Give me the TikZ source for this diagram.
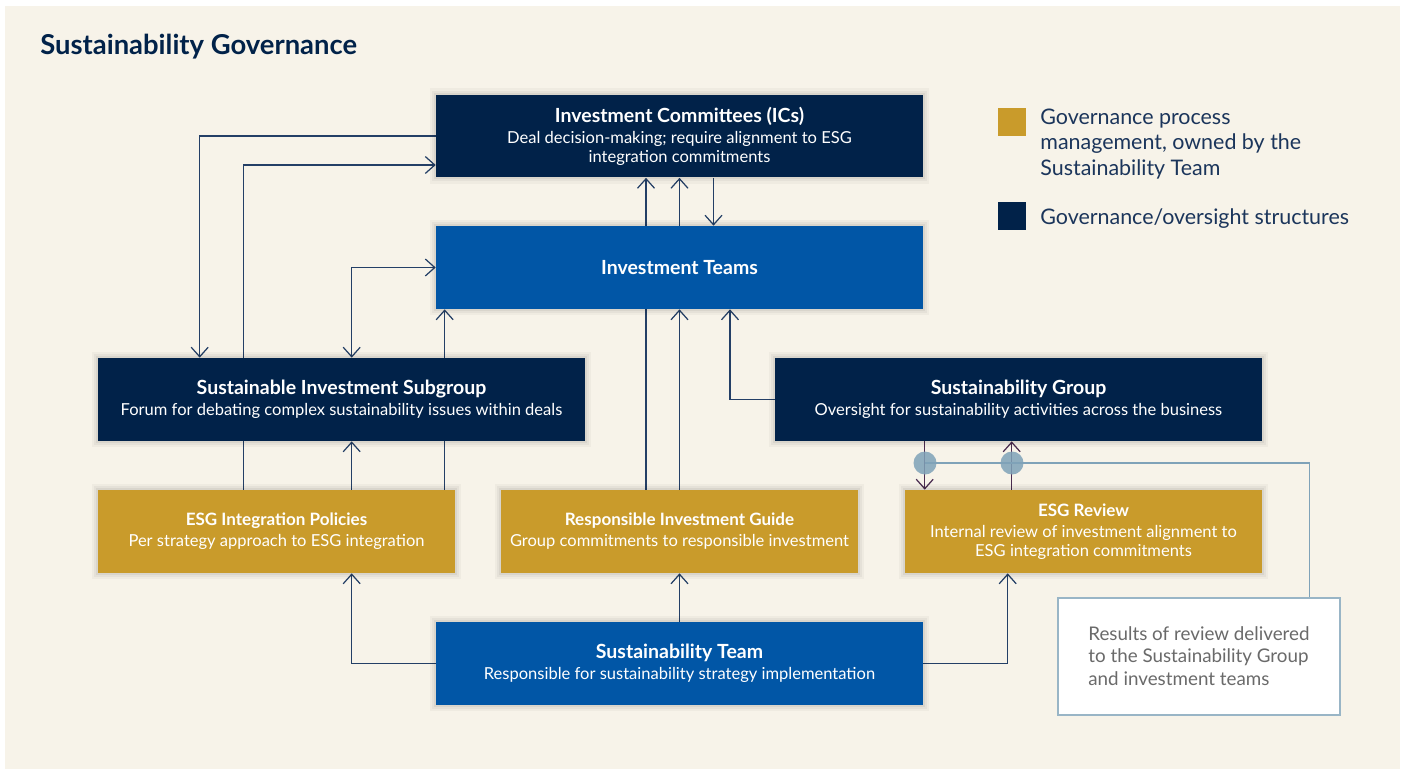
\documentclass[tikz,border=0pt]{standalone}
\usepackage{fontspec}
\setmainfont{Lato}
\usetikzlibrary{arrows.meta,calc,positioning}
\definecolor{navy}{HTML}{012249}
\definecolor{azure}{HTML}{0156A6}
\definecolor{gold}{HTML}{C99B2B}
\definecolor{cream}{HTML}{F7F3E9}
\definecolor{wire}{HTML}{243F66}
\definecolor{plum}{HTML}{4A2C50}
\definecolor{steel}{HTML}{7FA2B8}
\definecolor{ink}{HTML}{1B355B}
\definecolor{notegray}{HTML}{6A6A6A}
\pgfdeclarelayer{wires}
\pgfsetlayers{wires,main}
\newcommand\boxhead[1]{{\fontsize{11.1}{12}\selectfont\bfseries #1}}
\newcommand\prochead[1]{{\fontsize{9.7}{12}\selectfont\bfseries #1}}

\begin{document}
\begin{tikzpicture}[x=0.02cm,y=-0.02cm,
    box/.style={rectangle, text=white, align=center, inner sep=0pt,
      minimum height=1.66cm, font=\fontsize{9.4}{10.8}\selectfont,
      preaction={draw=black, draw opacity=0.03, line width=7pt},
      preaction={draw=black, draw opacity=0.04, line width=4.5pt},
      preaction={draw=black, draw opacity=0.05, line width=2pt}},
    wide/.style={box, minimum width=9.74cm},
    narrow/.style={box, minimum width=7.14cm},
    arr/.style={draw=wire, line width=0.7pt, -{Straight Barb[length=1.9mm,width=3.4mm]}},
    dbl/.style={arr, {Straight Barb[length=1.9mm,width=3.4mm]}-{Straight Barb[length=1.9mm,width=3.4mm]}},
    feed/.style={draw=steel, line width=0.6pt},
    dot/.style={circle, fill=steel, fill opacity=0.85, minimum size=0.46cm, inner sep=0pt},
    swatch/.style={rectangle, minimum size=0.56cm, inner sep=0pt}]
  \useasboundingbox (0,0) rectangle (1405,774);

  % title
  \node[anchor=west, text=navy, font=\fontsize{15.6}{18}\selectfont\bfseries, inner sep=0pt] (title) at (40,47) {Sustainability Governance};

  % top row
  \node[wide, fill=navy] (ics) at (679.5,136) {\boxhead{Investment Committees (ICs)}\\[1.2pt]
    Deal decision-making; require alignment to ESG\\ integration commitments};
  \node[wide, fill=azure] (teams) at (679.5,267.5) {\boxhead{Investment Teams}};

  % oversight structures
  \node[wide, fill=navy] (sis) at (341.5,399.5) {\boxhead{Sustainable Investment Subgroup}\\[1.2pt]
    Forum for debating complex sustainability issues within deals};
  \node[wide, fill=navy] (sgroup) at (1018.5,399.5) {\boxhead{Sustainability Group}\\[1.2pt]
    Oversight for sustainability activities across the business};

  % process management
  \node[narrow, fill=gold] (policies) at (276.5,531.5) {\prochead{ESG Integration Policies}\\[1.2pt]
    Per strategy approach to ESG integration};
  \node[narrow, fill=gold] (guide) at (679.5,531.5) {\prochead{Responsible Investment Guide}\\[1.2pt]
    Group commitments to responsible investment};
  \node[narrow, fill=gold] (review) at (1083.5,531.5) {\prochead{ESG Review}\\[1.2pt]
    Internal review of investment alignment to\\ ESG integration commitments};

  % bottom
  \node[wide, fill=azure] (steam) at (679.5,663.5) {\boxhead{Sustainability Team}\\[1.2pt]
    Responsible for sustainability strategy implementation};

  % note box
  \node[rectangle, draw=steel!80, line width=0.9pt, fill=white, minimum width=5.64cm, minimum height=2.34cm] (note) at (1199,656.5) {};
  \node[anchor=west, align=left, text=notegray, font=\fontsize{10.7}{13}\selectfont, inner sep=0pt] (notetext) at (1088,656) {Results of review delivered\\ to the Sustainability Group\\ and investment teams};

  % legend
  \node[swatch, fill=gold] (keygold) at (1012,122) {};
  \node[anchor=west, align=left, text=ink, font=\fontsize{12.2}{14.7}\selectfont, inner sep=0pt] (keygoldtext) at (1040,144) {Governance process\\ management, owned by the\\ Sustainability Team};
  \node[swatch, fill=navy] (keynavy) at (1012,216) {};
  \node[anchor=west, text=ink, font=\fontsize{12.2}{14.7}\selectfont, inner sep=0pt] (keynavytext) at (1040,219) {Governance/oversight structures};

  % review hand-off points
  \node[dot] (c1) at (925,463) {};
  \node[dot] (c2) at (1012,463) {};

  \begin{pgfonlayer}{wires}
    \fill[white] (0,0) rectangle (1405,774);
    \fill[cream] (5,6) rectangle (1400,769);
    % ICs, subgroup and policies
    \draw[arr] (ics.west) -| ($(sis.north west)+(102,0)$);
    \draw[arr] ($(policies.north west)+(146,0)$) |- ($(ics.west)+(0,29)$);
    \draw[dbl] (teams.west) -| ($(sis.north west)+(254,0)$);
    \draw[arr] ($(policies.north west)+(347,0)$) coordinate (p) -- (p |- teams.south);
    \draw[arr] ($(policies.north west)+(254,0)$) coordinate (p) -- (p |- sis.south);
    % guide, teams and ICs
    \draw[arr] ($(guide.north)+(-33.5,0)$) coordinate (p) -- (p |- ics.south);
    \draw[arr] (guide.north) -- (teams.south);
    \draw[arr] (teams.north) -- (ics.south);
    \draw[arr] ($(ics.south)+(34,0)$) coordinate (p) -- (p |- teams.north);
    \draw[arr] (sgroup.west) -| ($(teams.south)+(50.5,0)$);
    % review loop
    \draw[arr, draw=plum] ($(sgroup.south west)+(150,0)$) coordinate (p) -- (p |- review.north);
    \draw[arr, draw=plum] ($(review.north west)+(107,0)$) coordinate (p) -- (p |- sgroup.south);
    \draw[feed] (c1.center) -| ($(note.north west)+(252,0)$);
    % sustainability team
    \draw[arr] (steam.west) -| ($(policies.south west)+(254,0)$);
    \draw[arr] (steam.north) -- (guide.south);
    \draw[arr] (steam.east) -| ($(review.south west)+(103,0)$);
  \end{pgfonlayer}
\end{tikzpicture}
\end{document}
